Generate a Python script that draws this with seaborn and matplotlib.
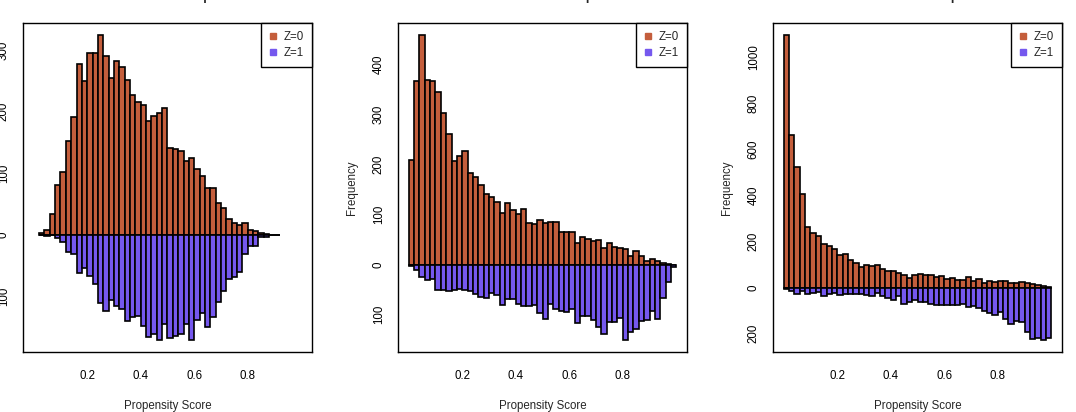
import numpy as np
import pandas as pd
import matplotlib
matplotlib.use("Agg")
import matplotlib.pyplot as plt
import seaborn as sns
from matplotlib.lines import Line2D

# histogram counts per 0.02 bin (Z=1 drawn below the axis)
bin_width = 0.02

titles = ["Good Overlap", "Medium Overlap", "Poor Overlap"]
first_bin = [1, 0, 0]

good_z0 = [3, 8, 34, 80, 102, 152, 191, 277, 249, 296, 295, 324, 291, 255, 282,
           273, 252, 227, 216, 210, 185, 193, 198, 206, 141, 139, 136, 119, 125, 107,
           95, 75, 76, 51, 43, 26, 19, 16, 18, 8, 6, 2, 1, 0, 0]
good_z1 = [1, 2, 1, 6, 12, 28, 31, 63, 54, 68, 80, 112, 125, 107, 117,
           121, 140, 134, 133, 149, 167, 162, 172, 146, 169, 165, 161, 145, 172, 139,
           127, 150, 134, 109, 91, 73, 69, 61, 32, 18, 19, 4, 4, 0, 0]

medium_z0 = [209, 367, 459, 370, 367, 345, 303, 262, 207, 218,
             227, 183, 175, 160, 142, 135, 125, 103, 123, 110,
             101, 111, 84, 82, 90, 84, 85, 86, 65, 65,
             65, 43, 55, 51, 48, 50, 33, 43, 35, 33,
             32, 17, 28, 17, 7, 11, 7, 3, 1, 0]
medium_z1 = [2, 11, 25, 30, 28, 51, 50, 52, 51, 48,
             50, 53, 59, 65, 67, 57, 60, 80, 69, 68,
             79, 82, 82, 81, 97, 108, 78, 89, 93, 95,
             88, 117, 102, 103, 110, 125, 139, 115, 115, 107,
             150, 135, 129, 112, 110, 93, 108, 67, 35, 5]

poor_z0 = [1095, 662, 522, 406, 262, 236, 225, 188, 179, 168,
           140, 146, 118, 107, 88, 100, 95, 100, 82, 74,
           71, 64, 53, 43, 53, 61, 56, 56, 46, 51,
           38, 42, 35, 35, 45, 30, 38, 20, 27, 23,
           27, 27, 20, 19, 23, 20, 16, 10, 9, 3]
poor_z1 = [6, 13, 27, 13, 27, 23, 17, 38, 26, 23,
           32, 26, 27, 26, 27, 33, 35, 23, 36, 43,
           52, 38, 71, 62, 55, 62, 62, 71, 77, 75,
           75, 75, 75, 69, 84, 78, 88, 103, 110, 117,
           107, 136, 156, 145, 149, 194, 221, 218, 225, 220]

y_ticks = [[300, 200, 100, 0, -100],
           [400, 300, 200, 100, 0, -100],
           [1000, 800, 600, 400, 200, 0, -200]]
y_limits = [(-191, 344), (-175, 483), (-279, 1147)]
x_ticks = [0.2, 0.4, 0.6, 0.8]

z0_color = "#C45E3C"
z1_color = "#7558EE"

sns.set_style("white")
plt.rcParams["font.family"] = ["Liberation Sans", "DejaVu Sans"]

fig = plt.figure(figsize=(10.76, 4.12), dpi=100)
lefts = [23, 398, 773]
panels = [(good_z0, good_z1), (medium_z0, medium_z1), (poor_z0, poor_z1)]

for i, (z0, z1) in enumerate(panels):
    ax = fig.add_axes([lefts[i] / 1076, 60 / 412, 289 / 1076, 329 / 412])
    n = len(z0)
    edges = [round((first_bin[i] + k) * bin_width, 4) for k in range(n + 1)]
    df = pd.DataFrame({"score": [e + bin_width / 2 for e in edges[:-1]],
                       "z0": z0,
                       "z1": [-c for c in z1]})
    sns.histplot(data=df, x="score", weights="z0", bins=edges, ax=ax,
                 color=z0_color, alpha=1, edgecolor="black", linewidth=1.2)
    sns.histplot(data=df, x="score", weights="z1", bins=edges, ax=ax,
                 color=z1_color, alpha=1, edgecolor="black", linewidth=1.2)

    ax.set_xlim(-0.04, 1.04)
    ax.set_ylim(*y_limits[i])
    ax.set_xticks(x_ticks)
    ax.set_xticklabels([str(t) for t in x_ticks])
    ax.set_yticks(y_ticks[i])
    ax.set_yticklabels([str(abs(t)) for t in y_ticks[i]], rotation=90, va="center")
    ax.tick_params(direction="out", length=4.5, width=0.8, color="black",
                   labelsize=8.3, labelcolor="black")
    ax.tick_params(axis="x", pad=8.5)
    ax.tick_params(axis="y", pad=5)
    for s in ax.spines.values():
        s.set_visible(True)
        s.set_color("black")
        s.set_linewidth(1)
    ax.set_xlabel("Propensity Score", fontsize=8.3, labelpad=13)
    ax.set_ylabel("Frequency", fontsize=8.3, labelpad=11)
    ax.set_title(titles[i], fontsize=9.5, fontweight="bold", pad=16.5)

    handles = [Line2D([], [], marker="s", linestyle="none", color=z0_color, markersize=4),
               Line2D([], [], marker="s", linestyle="none", color=z1_color, markersize=4)]
    leg = ax.legend(handles, ["Z=0", "Z=1"], loc="upper right", borderaxespad=0,
                    fontsize=8.3, fancybox=False, framealpha=1, edgecolor="black",
                    handlelength=0.8, handletextpad=0.5, borderpad=0.7, labelspacing=0.35)
    leg.get_frame().set_linewidth(1)

fig.savefig("out.png", dpi=100)
